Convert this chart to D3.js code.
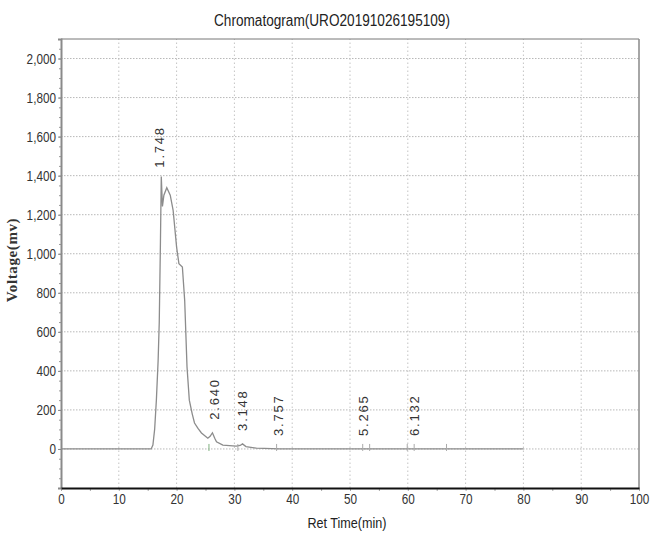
<!DOCTYPE html>
<html>
<head>
<meta charset="utf-8">
<script src="https://cdn.jsdelivr.net/npm/d3@7"></script>
<style>
  html, body { margin: 0; padding: 0; background: #fff; }
  svg { display: block; }
  text { font-family: "Liberation Sans", Arial, sans-serif; }
  text.serif { font-family: "Liberation Serif", "Times New Roman", serif; }
</style>
</head>
<body>
<svg id="chart" width="654" height="536"></svg>
<script>
// ─── Data ─────────────────────────────────────────────────────────────────────

const retTime = [0, 15.0, 15.6, 15.9, 16.2, 16.5, 16.8, 17.0, 17.2, 17.35, 17.55, 17.8, 18.3, 18.9,
  19.4, 20.0, 20.4, 21.0, 21.4, 21.8, 22.2, 22.7, 23.1, 23.7, 24.3, 25.4, 25.8, 26.2, 26.6,
  26.9, 28.0, 30.3, 31.0, 31.4, 32.0, 33.8, 37.8, 80];
const voltage = [0, 0, 0, 20, 100, 250, 450, 650, 1050, 1395, 1242, 1300, 1338, 1300,
  1222, 1034, 949, 932, 760, 421, 250, 180, 133, 105, 82, 55, 65, 83, 55,
  37, 20, 15, 18, 26, 12, 4, 0, 0];

const peakNames = ["1.748", "2.640", "3.148", "3.757", "5.265", "6.132"];
const peakTimes = [17.1, 26.6, 31.4, 37.7, 52.3, 61.1];
const peakHeights = [1395, 83, 26, 0, 0, 0];

const markerTimes = [25.6, 30.6, 37.3, 52.2, 53.4, 59.9, 61.1, 66.7];

const xTicks = [0, 10, 20, 30, 40, 50, 60, 70, 80, 90, 100];
const yTicks = [0, 200, 400, 600, 800, 1000, 1200, 1400, 1600, 1800, 2000];

// ─── Helpers ──────────────────────────────────────────────────────────────────

// no narrow font installed, so squeeze the glyphs horizontally
function squeeze(sel, k) {
  sel.each(function () {
    const w = this.getComputedTextLength();
    this.setAttribute("textLength", (w * k).toFixed(1));
    this.setAttribute("lengthAdjust", "spacingAndGlyphs");
  });
}

// ─── Layout ───────────────────────────────────────────────────────────────────

const W = 654, H = 536;
const margin = { top: 39, right: 15, bottom: 48, left: 61 };

const svg = d3.select("#chart");

const x = d3.scaleLinear().domain([0, 100]).range([margin.left, W - margin.right]);
const y = d3.scaleLinear().domain([-200, 2100]).range([H - margin.bottom, margin.top]);

// Grid
svg.append("g")
  .selectAll("line")
  .data(yTicks)
  .join("line")
  .attr("x1", x(0)).attr("x2", x(100))
  .attr("y1", d => y(d)).attr("y2", d => y(d))
  .attr("stroke", "#b8b8b8")
  .attr("stroke-dasharray", "1.5,1.5");

svg.append("g")
  .selectAll("line")
  .data(xTicks.slice(1, -1))
  .join("line")
  .attr("x1", d => x(d)).attr("x2", d => x(d))
  .attr("y1", y(-200)).attr("y2", y(2100))
  .attr("stroke", "#c4c4c4")
  .attr("stroke-dasharray", "1.5,2.5");

// Frame: top / right
svg.append("line")
  .attr("x1", x(0)).attr("x2", x(100))
  .attr("y1", y(2100)).attr("y2", y(2100))
  .attr("stroke", "#777").attr("stroke-width", 1);
svg.append("line")
  .attr("x1", x(100)).attr("x2", x(100))
  .attr("y1", y(2100)).attr("y2", y(-200))
  .attr("stroke", "#888").attr("stroke-width", 1.5);

// Y axis
const yMinor = d3.range(-200, 2101, 50);
svg.append("g")
  .attr("transform", `translate(${x(0)},0)`)
  .call(d3.axisLeft(y).tickValues(yMinor).tickSize(2).tickFormat(""))
  .call(g => g.select(".domain").remove())
  .call(g => g.selectAll("line").attr("stroke", "#999"));

const yAxis = svg.append("g")
  .attr("transform", `translate(${x(0)},0)`)
  .call(d3.axisLeft(y).tickValues(yTicks).tickSize(3).tickPadding(2).tickFormat(d3.format(",")));
yAxis.select(".domain").attr("stroke", "#8a8a8a").attr("stroke-width", 2);
yAxis.selectAll("line").attr("stroke", "#888");
yAxis.selectAll("text")
  .attr("font-family", null)
  .attr("font-size", "14px")
  .attr("fill", "#333")
  .call(squeeze, 0.84);

// X axis
svg.append("g")
  .attr("transform", `translate(0,${y(-200)})`)
  .call(d3.axisBottom(x).tickValues(d3.range(0, 101, 5)).tickSize(3).tickFormat(""))
  .call(g => g.select(".domain").remove())
  .call(g => g.selectAll("line").attr("stroke", "#aaa"));

const xAxis = svg.append("g")
  .attr("transform", `translate(0,${y(-200)})`)
  .call(d3.axisBottom(x).tickValues(xTicks).tickSize(0).tickPadding(6));
xAxis.select(".domain").attr("stroke", "#111").attr("stroke-width", 2);
xAxis.selectAll("text")
  .attr("font-family", null)
  .attr("font-size", "14px")
  .attr("fill", "#333")
  .call(squeeze, 0.84);

// Signal
const line = d3.line()
  .x((d, i) => x(retTime[i]))
  .y(d => y(d));

svg.append("path")
  .datum(voltage)
  .attr("d", line)
  .attr("fill", "none")
  .attr("stroke", "#8c8c8c")
  .attr("stroke-width", 1.3);

// Baseline marks
svg.append("g")
  .selectAll("line")
  .data(markerTimes)
  .join("line")
  .attr("x1", d => x(d)).attr("x2", d => x(d))
  .attr("y1", y(0) - 5).attr("y2", y(0) + 2)
  .attr("stroke", (d, i) => i === 0 ? "#7fb07f" : "#aaa")
  .attr("stroke-width", 1);

// Peak labels
svg.append("g")
  .selectAll("text")
  .data(peakNames)
  .join("text")
  .attr("transform", (d, i) => `translate(${x(peakTimes[i])},${y(peakHeights[i]) - (i === 0 ? 9 : 13)}) rotate(-90)`)
  .attr("dy", "0.35em")
  .attr("font-size", "13px")
  .attr("letter-spacing", "1.8px")
  .attr("fill", "#333")
  .text(d => d);

// Title
svg.append("text")
  .attr("x", 332)
  .attr("y", 26)
  .attr("text-anchor", "middle")
  .attr("font-size", "16px")
  .attr("fill", "#222")
  .text("Chromatogram(URO20191026195109)")
  .call(squeeze, 0.85);

// Axis titles
svg.append("text")
  .attr("x", 347)
  .attr("y", 528)
  .attr("text-anchor", "middle")
  .attr("font-size", "15px")
  .attr("fill", "#222")
  .text("Ret Time(min)")
  .call(squeeze, 0.84);

svg.append("text")
  .attr("class", "serif")
  .attr("transform", "translate(17,260) rotate(-90)")
  .attr("text-anchor", "middle")
  .attr("font-weight", "bold")
  .attr("font-size", "15px")
  .attr("letter-spacing", "0.6px")
  .attr("fill", "#333")
  .text("Voltage(mv)");
</script>
</body>
</html>
